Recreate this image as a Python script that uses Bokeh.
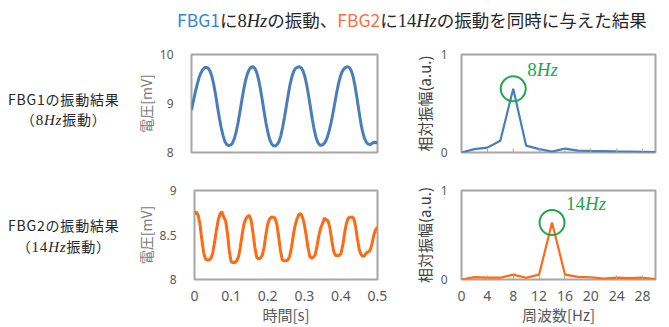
import numpy as np
from bokeh.plotting import figure
from bokeh.models import Div, Range1d, FixedTicker, NumeralTickFormatter
from bokeh.layouts import column, row
from bokeh.core.properties import value
from bokeh.embed import file_html
from bokeh.resources import INLINE

# ---------------- data ----------------
dt = 0.005
time_s = [round(i * dt, 3) for i in range(101)]

fbg1_mv = [8.87, 9.05, 9.22, 9.38, 9.52, 9.62, 9.69, 9.73, 9.74, 9.72,
           9.66, 9.55, 9.38, 9.17, 8.93, 8.70, 8.50, 8.34, 8.22, 8.16,
           8.14, 8.15, 8.19, 8.28, 8.42, 8.60, 8.82, 9.05, 9.27, 9.46,
           9.60, 9.69, 9.74, 9.75, 9.72, 9.64, 9.50, 9.31, 9.08, 8.84,
           8.61, 8.42, 8.27, 8.18, 8.14, 8.13, 8.16, 8.22, 8.34, 8.51,
           8.72, 8.95, 9.18, 9.39, 9.55, 9.66, 9.72, 9.74, 9.75, 9.73,
           9.66, 9.54, 9.37, 9.15, 8.91, 8.67, 8.46, 8.30, 8.20, 8.15,
           8.15, 8.17, 8.22, 8.31, 8.44, 8.60, 8.79, 9.00, 9.21, 9.40,
           9.55, 9.65, 9.71, 9.74, 9.75, 9.73, 9.66, 9.53, 9.34, 9.10,
           8.85, 8.61, 8.42, 8.29, 8.21, 8.17, 8.16, 8.18, 8.21, 8.20,
           8.21]

fbg2_mv = [8.74, 8.76, 8.72, 8.62, 8.45, 8.30, 8.23, 8.22, 8.22, 8.24,
           8.30, 8.42, 8.56, 8.67, 8.74, 8.76, 8.70, 8.66, 8.52, 8.32,
           8.20, 8.19, 8.19, 8.21, 8.25, 8.36, 8.50, 8.62, 8.68, 8.71,
           8.72, 8.66, 8.52, 8.36, 8.25, 8.23, 8.24, 8.27, 8.36, 8.50,
           8.62, 8.68, 8.70, 8.70, 8.69, 8.62, 8.48, 8.32, 8.22, 8.21,
           8.21, 8.22, 8.26, 8.36, 8.50, 8.61, 8.68, 8.73, 8.74, 8.70,
           8.62, 8.50, 8.36, 8.26, 8.24, 8.25, 8.28, 8.38, 8.50, 8.58,
           8.63, 8.69, 8.67, 8.66, 8.58, 8.44, 8.32, 8.27, 8.27, 8.27,
           8.29, 8.38, 8.52, 8.63, 8.69, 8.70, 8.70, 8.69, 8.60, 8.46,
           8.34, 8.28, 8.26, 8.27, 8.30, 8.31, 8.33, 8.40, 8.50, 8.56,
           8.59]

freq_hz = [0, 2, 4, 6, 8, 10, 12, 14, 16, 18, 20, 22, 24, 26, 28, 30]
fft1_amp = [0.0, 0.035, 0.05, 0.12, 0.65, 0.07, 0.035, 0.01, 0.04, 0.02,
            0.017, 0.015, 0.012, 0.01, 0.007, 0.004]
fft2_amp = [0.0, 0.026, 0.02, 0.02, 0.055, 0.02, 0.055, 0.64, 0.055, 0.03,
            0.025, 0.01, 0.02, 0.015, 0.02, 0.005]

time_ticks = [0, 0.1, 0.2, 0.3, 0.4, 0.5]
v1_ticks = [8, 9, 10]
v2_ticks = [8, 8.5, 9]
freq_ticks = [0, 4, 8, 12, 16, 20, 24, 28]
amp_ticks = [0, 1]

# ---------------- styles ----------------
JP = "Noto Sans CJK JP"
NUM = "Noto Sans"
SERIF = "Liberation Serif"
BLUE = "#4a7ebb"
ORANGE = "#ff6a14"
GREEN = "#1ea64b"
FRAME = "#a6a6a6"
TICKC = "#595959"

def base_fig(w, h, xr, yr, bl, br, bt, bb):
    p = figure(width=w, height=h, x_range=Range1d(*xr), y_range=Range1d(*yr),
               output_backend="svg", toolbar_location=None,
               min_border_left=bl, min_border_right=br,
               min_border_top=bt, min_border_bottom=bb)
    p.grid.grid_line_color = None
    p.outline_line_color = FRAME
    p.outline_line_width = 2
    p.background_fill_color = "white"
    p.border_fill_color = "white"
    for ax in (p.xaxis[0], p.yaxis[0]):
        ax.axis_line_color = None
        ax.minor_tick_line_color = None
        ax.major_tick_out = 0
        ax.major_tick_in = 0
        ax.major_tick_line_color = None
        ax.major_label_text_color = TICKC
        ax.major_label_text_font = NUM
    return p

def style_y(p, ticks, label, label_color, label_size, standoff, lab_standoff):
    ax = p.yaxis[0]
    ax.ticker = FixedTicker(ticks=ticks)
    ax.formatter = NumeralTickFormatter(format="0.[0]")
    ax.major_label_text_font_size = "12px"
    ax.major_label_standoff = standoff
    ax.axis_label = label
    ax.axis_label_text_font = JP
    ax.axis_label_text_font_style = "normal"
    ax.axis_label_text_font_size = label_size
    ax.axis_label_text_color = label_color
    ax.axis_label_standoff = lab_standoff

def style_x(p, ticks, inward, label):
    ax = p.xaxis[0]
    ax.ticker = FixedTicker(ticks=ticks)
    ax.formatter = NumeralTickFormatter(format="0.[0]")
    if inward:
        ax.major_tick_in = 4
        ax.major_tick_line_color = FRAME
        ax.major_tick_line_width = 1
    ax.major_label_text_font_size = "14px"
    ax.major_label_standoff = 11
    ax.axis_label = label
    ax.axis_label_text_font = JP
    ax.axis_label_text_font_style = "normal"
    ax.axis_label_text_font_size = "15px"
    ax.axis_label_text_color = TICKC
    ax.axis_label_standoff = 0

def inner_ticks(p, ticks):
    # short inward tick marks on a frame without tick labels
    p.scatter(x=ticks, y=[p.y_range.start] * len(ticks), marker="dash", angle=np.pi / 2,
              size=8, line_color=FRAME, line_width=1)

def peak_mark(p, f, a, num):
    i = int(np.argmax(a))
    p.scatter(x=[f[i]], y=[a[i]], marker="circle", size=25, fill_color=None,
              line_color=GREEN, line_width=2)
    p.text(x=[f[i]], y=[a[i]], text=[num], x_offset=14, y_offset=-19,
           text_font=value(SERIF), text_font_size="19px", text_color=GREEN,
           text_baseline="alphabetic", text_align="left")
    p.text(x=[f[i]], y=[a[i]], text=["Hz"], x_offset=14 + 9.5 * len(num), y_offset=-19,
           text_font=value(SERIF), text_font_size="19px", text_font_style="italic",
           text_color=GREEN, text_baseline="alphabetic", text_align="left")

# ---------------- figures ----------------
p1 = base_fig(263, 116, (0, 0.5), (8, 10), 57, 18, 10, 8)
p1.line(time_s, fbg1_mv, line_color=BLUE, line_width=3)
style_y(p1, v1_ticks, "電圧[mV]", "#7a7a7a", "14px", 18, 1)
p1.xaxis.visible = False

p2 = base_fig(266, 116, (0, 30), (0, 1), 66, 6, 10, 8)
p2.line(freq_hz, fft1_amp, line_color=BLUE, line_width=2.2)
style_y(p2, amp_ticks, "相対振幅(a.u.)", "#404040", "15px", 14, 3)
p2.xaxis.visible = False
inner_ticks(p2, freq_ticks)
peak_mark(p2, freq_hz, fft1_amp, "8")

p3 = base_fig(263, 167, (0, 0.5), (8, 9), 57, 18, 30, 46)
p3.line(time_s, fbg2_mv, line_color=ORANGE, line_width=3)
style_y(p3, v2_ticks, "電圧[mV]", "#7a7a7a", "14px", 18, 1)
style_x(p3, time_ticks, False, "時間[s]")

p4 = base_fig(266, 167, (0, 30), (0, 1), 66, 6, 30, 46)
p4.line(freq_hz, fft2_amp, line_color=ORANGE, line_width=2.2)
style_y(p4, amp_ticks, "相対振幅(a.u.)", "#404040", "15px", 14, 3)
style_x(p4, freq_ticks, True, "周波数[Hz]")
peak_mark(p4, freq_hz, fft2_amp, "14")

# ---------------- texts ----------------
JPCSS = "'Noto Sans CJK JP', sans-serif"
SERIFCSS = "'Liberation Serif', serif"

def hz(num, size):
    return (f'<span style="font-family:{SERIFCSS};font-size:{size}px">{num}'
            f'<i>Hz</i></span>')

title_html = (
    f'<div style="font-family:{JPCSS};font-size:17.5px;color:#262626;line-height:24px;'
    f'padding-top:8px;padding-left:177px;white-space:nowrap">'
    f'<span style="color:#2f88d2">FBG1</span>に{hz("8", 18.5)}の振動、'
    f'<span style="color:#ff6e40">FBG2</span>に{hz("14", 18.5)}の振動を同時に与えた結果</div>'
)
title_div = Div(text=title_html, width=661, height=44, margin=(0, 0, 0, 0))

def row_label(name, num, pad):
    html = (f'<div style="font-family:{JPCSS};font-size:14px;color:#262626;line-height:20.5px;'
            f'letter-spacing:0.8px;text-align:center;padding-top:{pad}px;padding-left:8px;'
            f'white-space:nowrap">'
            f'{name}の振動結果<br>（{hz(num, 15)}振動）</div>')
    return html

lab1 = Div(text=row_label("FBG1", "8", 44.5), width=132, height=116, margin=(0, 0, 0, 0))
lab2 = Div(text=row_label("FBG2", "14", 55), width=132, height=167, margin=(0, 0, 0, 0))

layout = column(title_div,
                row(lab1, p1, p2, spacing=0),
                row(lab2, p3, p4, spacing=0),
                spacing=0)

open("out.html", "w").write(file_html(layout, INLINE))
